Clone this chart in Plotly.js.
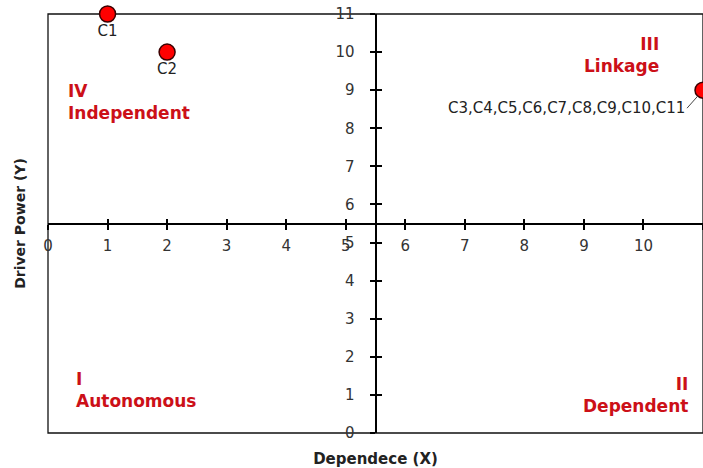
<!DOCTYPE html>
<html>
<head>
<meta charset="utf-8">
<script src="https://cdn.plot.ly/plotly-3.0.1.min.js"></script>
<style>html,body{margin:0;padding:0;background:#fff;}#chart{width:703px;height:468px;}</style>
</head>
<body>
<div id="chart"></div>
<script>
// Data
const dependence = [1, 2, 11];
const driverPower = [11, 10, 9];
const pointLabels = ['C1', 'C2', 'C3,C4,C5,C6,C7,C8,C9,C10,C11'];
const tickVals = [0,1,2,3,4,5,6,7,8,9,10,11];
const quadrantNames = ['I<br>Autonomous', 'II<br>Dependent', 'III<br>Linkage', 'IV<br>Independent'];
const quadrantX = [0.43, 10.78, 10.3, 0.3];
const quadrantY = [1.13, 1.0, 9.93, 8.7];
const quadrantAlign = ['left', 'right', 'right', 'left'];
const crossAt = 5.5;
const axisMax = 11;

const FONT = 'DejaVu Sans, sans-serif';
const RED = '#cc1018';

const trace = {
  x: dependence.slice(0, 2),
  y: driverPower.slice(0, 2),
  text: pointLabels.slice(0, 2),
  mode: 'markers+text',
  textposition: 'bottom center',
  textfont: {family: FONT, size: 15, color: '#222'},
  marker: {size: 16, color: '#ff0000', line: {color: '#3a0000', width: 1.5}},
  cliponaxis: false,
  hoverinfo: 'skip',
  xaxis: 'x', yaxis: 'y'
};
const trace2 = {
  x: dependence.slice(2),
  y: driverPower.slice(2),
  mode: 'markers',
  marker: {size: 16, color: '#ff0000', line: {color: '#3a0000', width: 1.5}},
  cliponaxis: false,
  hoverinfo: 'skip',
  xaxis: 'x', yaxis: 'y'
};

const annotations = quadrantNames.map((t, i) => ({
  x: quadrantX[i], y: quadrantY[i], xref: 'x', yref: 'y',
  text: '<b>' + t.replace('<br>', '</b><br><b>') + '</b>',
  showarrow: false, align: quadrantAlign[i], xanchor: quadrantAlign[i], yanchor: 'middle',
  font: {family: FONT, size: 17, color: RED}
}));
annotations.push({
  x: dependence[2], y: driverPower[2], xref: 'x', yref: 'y',
  text: pointLabels[2], showarrow: true, arrowhead: 0, arrowwidth: 1, arrowcolor: '#444',
  ax: -16, ay: 18, xanchor: 'right', yanchor: 'middle', standoff: 8,
  font: {family: FONT, size: 15, color: '#222'}
});

const crossAxisBase = {
  range: [0, axisMax], tickvals: tickVals, showgrid: false, zeroline: false,
  anchor: 'free', position: crossAt / axisMax, fixedrange: true
};

const layout = {
  width: 703, height: 468,
  margin: {l: 48, r: 0, t: 14, b: 35},
  paper_bgcolor: '#fff', plot_bgcolor: '#fff',
  showlegend: false,
  font: {family: FONT, color: '#222'},
  xaxis: {
    range: [0, axisMax], showgrid: false, zeroline: false, showline: false, ticks: '',
    showticklabels: false, fixedrange: true,
    title: {text: '<b>Dependece (X)</b>', font: {family: FONT, size: 15, color: '#222'}, standoff: 20}
  },
  yaxis: {
    range: [0, axisMax], showgrid: false, zeroline: false, showline: false, ticks: '',
    showticklabels: false, fixedrange: true,
    title: {text: '<b>Driver Power (Y)</b>', font: {family: FONT, size: 14, color: '#222'}, standoff: 18}
  },
  xaxis2: Object.assign({}, crossAxisBase, {
    overlaying: 'x', side: 'bottom', showline: true, linecolor: '#000', linewidth: 2.5,
    ticks: 'outside', ticklen: 5, tickwidth: 2, tickcolor: '#000',
    tickfont: {family: FONT, size: 15, color: '#333'}, ticklabelstandoff: 3
  }),
  xaxis3: Object.assign({}, crossAxisBase, {
    overlaying: 'x', side: 'bottom', showline: false,
    ticks: 'inside', ticklen: 5, tickwidth: 2, tickcolor: '#000', showticklabels: false
  }),
  yaxis2: Object.assign({}, crossAxisBase, {
    overlaying: 'y', side: 'left', showline: true, linecolor: '#000', linewidth: 2.5,
    ticks: 'outside', ticklen: 5, tickwidth: 2, tickcolor: '#000',
    tickfont: {family: FONT, size: 15, color: '#333'}, ticklabelstandoff: 12
  }),
  yaxis3: Object.assign({}, crossAxisBase, {
    overlaying: 'y', side: 'left', showline: false,
    ticks: 'inside', ticklen: 5, tickwidth: 2, tickcolor: '#000', showticklabels: false
  }),
  shapes: [{
    type: 'rect', xref: 'paper', yref: 'paper', x0: 0, x1: 1, y0: 0, y1: 1,
    line: {color: '#111', width: 1.3}, layer: 'below'
  }],
  annotations: annotations
};

// empty traces so the overlaying crossing axes are drawn
const axisHolderX = {x: [], y: [], xaxis: 'x2', yaxis: 'y', mode: 'markers', hoverinfo: 'skip'};
const axisHolderX3 = {x: [], y: [], xaxis: 'x3', yaxis: 'y', mode: 'markers', hoverinfo: 'skip'};
const axisHolderY = {x: [], y: [], xaxis: 'x', yaxis: 'y2', mode: 'markers', hoverinfo: 'skip'};
const axisHolderY3 = {x: [], y: [], xaxis: 'x', yaxis: 'y3', mode: 'markers', hoverinfo: 'skip'};

Plotly.newPlot('chart', [axisHolderX, axisHolderX3, axisHolderY, axisHolderY3, trace, trace2], layout, {displayModeBar: false, staticPlot: true});
</script>
</body>
</html>
